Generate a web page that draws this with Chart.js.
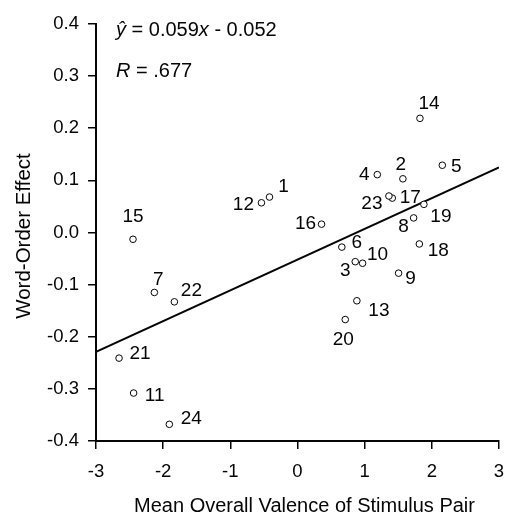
<!DOCTYPE html>
<html>
<head>
<meta charset="utf-8">
<script src="https://cdn.jsdelivr.net/npm/chart.js@4/dist/chart.umd.min.js"></script>
<style>
  html, body { margin: 0; padding: 0; background: #fff; }
  #wrap { width: 506px; height: 513px; }
</style>
</head>
<body>
<div id="wrap"><canvas id="graph" width="506" height="513"></canvas></div>
<script>
// stimulus pair numbers and their values
const pairIds = [1, 2, 3, 4, 5, 6, 7, 8, 9, 10, 11, 12, 13, 14, 15, 16, 17, 18, 19, 20, 21, 22, 23, 24];
const valence = [-0.417, 1.569, 0.860, 1.188, 2.156, 0.660, -2.131, 1.729, 1.505, 0.969, -2.440, -0.537,
                 0.884, 1.823, -2.449, 0.358, 1.411, 1.814, 1.882, 0.711, -2.657, -1.833, 1.361, -1.908];
const wordOrder = [0.068, 0.103, -0.056, 0.111, 0.129, -0.028, -0.115, 0.028, -0.078, -0.059, -0.308, 0.057,
                   -0.131, 0.219, -0.013, 0.016, 0.066, -0.022, 0.054, -0.167, -0.241, -0.133, 0.070, -0.368];

// fitted line end points
const fitX = [-3, 3];
const fitY = [-0.229, 0.125];

const xTicks = [-3, -2, -1, 0, 1, 2, 3];
const yTicks = [-0.4, -0.3, -0.2, -0.1, 0.0, 0.1, 0.2, 0.3, 0.4];

const xTitle = 'Mean Overall Valence of Stimulus Pair';
const yTitle = 'Word-Order Effect';

// where each number sits next to its point (px, relative to point, text centre)
const labelOffset = {
  1: [14, -11], 2: [-2, -15], 3: [-10, 8], 4: [-13, -1], 5: [14, 1], 6: [15, -5],
  7: [4, -14], 8: [-10, 8], 9: [12, 5], 10: [15, -9], 11: [21, 2], 12: [-18, 1],
  13: [22, 9], 14: [9, -16], 15: [0, -24], 16: [-16, -1], 17: [18, -1], 18: [19, 6],
  19: [17, 11], 20: [-2, 19], 21: [21, -5], 22: [17, -12], 23: [-17, 7], 24: [22, -7]
};

const FONT = 'Liberation Sans, Arial, sans-serif';
const INK = '#050505';

const annotations = {
  id: 'annotations',
  afterDatasetsDraw(chart) {
    const ctx = chart.ctx;
    const meta = chart.getDatasetMeta(0);
    ctx.save();
    ctx.font = '19px ' + FONT;
    ctx.fillStyle = INK;
    ctx.textAlign = 'center';
    ctx.textBaseline = 'middle';
    meta.data.forEach((pt, i) => {
      const id = pairIds[i];
      const off = labelOffset[id] || [12, 0];
      ctx.fillText(String(id), pt.x + off[0], pt.y + off[1] + 1);
    });

    // equation and R, with the italic bits
    const parts = [
      [['italic', '\u0177'], ['normal', ' = 0.059'], ['italic', 'x'], ['normal', ' - 0.052']],
      [['italic', 'R'], ['normal', ' = .677']]
    ];
    const baselines = [36, 77];
    ctx.textAlign = 'left';
    ctx.textBaseline = 'alphabetic';
    parts.forEach((line, li) => {
      let x = 116;
      line.forEach(([style, txt]) => {
        ctx.font = style + ' 20px ' + FONT;
        ctx.fillText(txt, x, baselines[li]);
        x += ctx.measureText(txt).width;
      });
    });

    // axis titles (the original sits a little off the axis centres)
    ctx.font = '20px ' + FONT;
    ctx.textAlign = 'center';
    ctx.fillText(xTitle, 304.5, 511.5);
    ctx.translate(30, 236);
    ctx.rotate(-Math.PI / 2);
    ctx.font = '20.5px ' + FONT;
    ctx.fillText(yTitle, 0, 0);
    ctx.restore();
  }
};

new Chart(document.getElementById('graph'), {
  type: 'scatter',
  data: {
    datasets: [{
      label: 'pairs',
      data: valence.map((v, i) => ({ x: v, y: wordOrder[i] })),
      pointRadius: 3.3,
      pointBackgroundColor: '#fff',
      pointBorderColor: INK,
      pointBorderWidth: 1,
      order: 0
    }, {
      type: 'line',
      label: 'fit',
      data: fitX.map((v, i) => ({ x: v, y: fitY[i] })),
      borderColor: INK,
      borderWidth: 2,
      pointRadius: 0,
      fill: false,
      order: 1
    }]
  },
  options: {
    responsive: false,
    animation: false,
    layout: { padding: { top: 24, right: 7, left: 0, bottom: 0 } },
    plugins: { legend: { display: false }, tooltip: { enabled: false } },
    scales: {
      x: {
        type: 'linear',
        min: -3, max: 3,
        afterBuildTicks: s => { s.ticks = xTicks.map(v => ({ value: v })); },
        afterFit: s => { s.height = 72; s.paddingRight = 0; },
        grid: { drawOnChartArea: false, drawTicks: true, tickLength: 8, color: INK, lineWidth: 1.5 },
        border: { display: true, color: INK, width: 2 },
        ticks: { color: INK, font: { family: FONT, size: 18.5 }, padding: 12,
                 callback: v => String(v) },
        title: { display: false }
      },
      y: {
        min: -0.4, max: 0.4,
        afterBuildTicks: s => { s.ticks = yTicks.map(v => ({ value: v })); },
        afterFit: s => { s.width = 96; },
        grid: { drawOnChartArea: false, drawTicks: true, tickLength: 8, color: INK, lineWidth: 1.5 },
        border: { display: true, color: INK, width: 2 },
        ticks: { color: INK, font: { family: FONT, size: 18.5 }, padding: 9,
                 callback: v => v.toFixed(1) },
        title: { display: false }
      }
    }
  },
  plugins: [annotations]
});
</script>
</body>
</html>
